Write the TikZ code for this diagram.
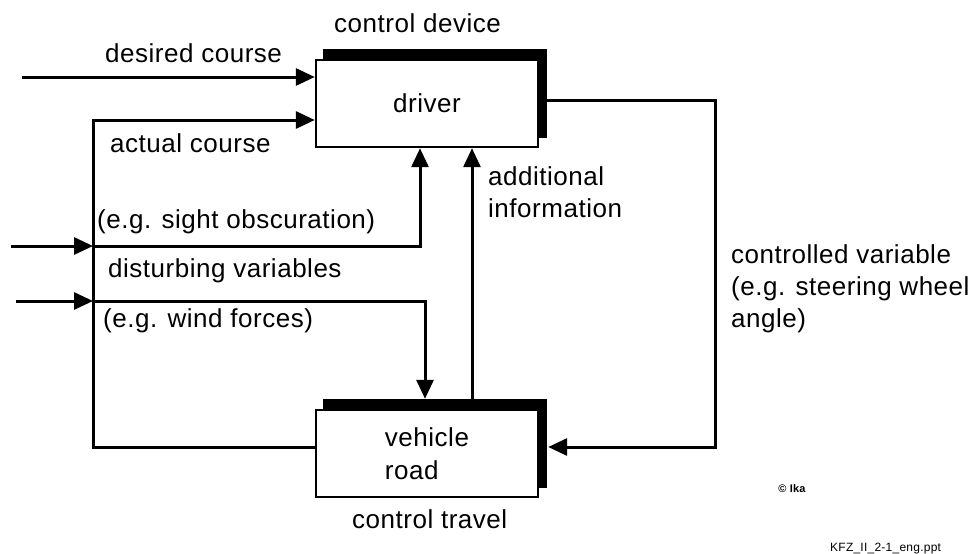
\documentclass[tikz,border=0pt]{standalone}
\usepackage{fontspec}
\setmainfont{Liberation Sans}[LetterSpace=2]
\usetikzlibrary{arrows.meta,shadows}
\begin{document}
\begin{tikzpicture}[x=1pt,y=-1pt,
  arr/.style={line width=3pt, -{Triangle[length=19pt,width=17pt]}},
  blk/.style={draw, line width=2.4pt, fill=white, minimum width=222pt, minimum height=87pt,
    inner sep=0pt, align=left, font=\fontsize{26}{33}\selectfont,
    copy shadow={shadow xshift=8pt, shadow yshift=10pt, fill=black, draw=black}},
  lbl/.style={anchor=base west, inner sep=0pt, font=\fontsize{26}{32}\selectfont, align=left}]
\path[use as bounding box] (0,0) rectangle (975,554);

% blocks
\node[blk] (driver) at (427,103.5) {driver};
\node[blk] (vehicle) at (427,453.5) {vehicle\\road};

% helper coordinates
\coordinate (dcin) at (22,77);
\coordinate (lc) at (93,120);
\coordinate (lb) at (93,447);
\coordinate (s0) at (11,246);
\coordinate (s1) at (93,246);
\coordinate (s2) at (420,246);
\coordinate (w0) at (16,301);
\coordinate (w1) at (93,301);
\coordinate (w2) at (425,301);
\coordinate (vtop) at ([yshift=10pt]vehicle.north);
\coordinate (vr) at ([xshift=9pt]vehicle.east);
\coordinate (ai) at (472,300);
\coordinate (cr) at (715,100);
\coordinate (cb) at (715,447);

% connectors
\draw[arr] (dcin) -- (dcin -| driver.west);
\draw[arr] (vehicle.west |- lb) -- (lb) -- (lc) -- (lc -| driver.west);
\draw[arr] (s0) -- (s1);
\draw[arr] (s1) -- (s2) -- (s2 |- driver.south);
\draw[arr] (w0) -- (w1);
\draw[arr] (w1) -- (w2) -- (w2 |- vtop);
\draw[arr] (ai |- vtop) -- (ai |- driver.south);
\draw[arr] (driver.east |- cr) -- (cr) -- (cb) -- (cb -| vr);

% labels
\node[lbl] (tdev) at (334,32) {control device};
\node[lbl] (tdes) at (105,62) {desired course};
\node[lbl] (tact) at (110,152) {actual course};
\node[lbl] (tsight) at (97,228) {(e.g. sight obscuration)};
\node[lbl] (tdist) at (108,277) {disturbing variables};
\node[lbl] (twind) at (103,327) {(e.g. wind forces)};
\node[lbl] (tadd) at (488,217) {additional\\information};
\node[lbl] (tctrl) at (731,327) {controlled variable\\(e.g. steering wheel\\angle)};
\node[lbl] (ttrav) at (352,528) {control travel};
\node[inner sep=0pt, font=\fontsize{11}{13}\selectfont\bfseries] (tika) at (792,489) {\textcopyright\ Ika};
\node[anchor=base west, inner sep=0pt, font=\fontsize{12}{14}\selectfont] (tfile) at (830,551) {KFZ\_II\_2-1\_eng.ppt};
\end{tikzpicture}
\end{document}
